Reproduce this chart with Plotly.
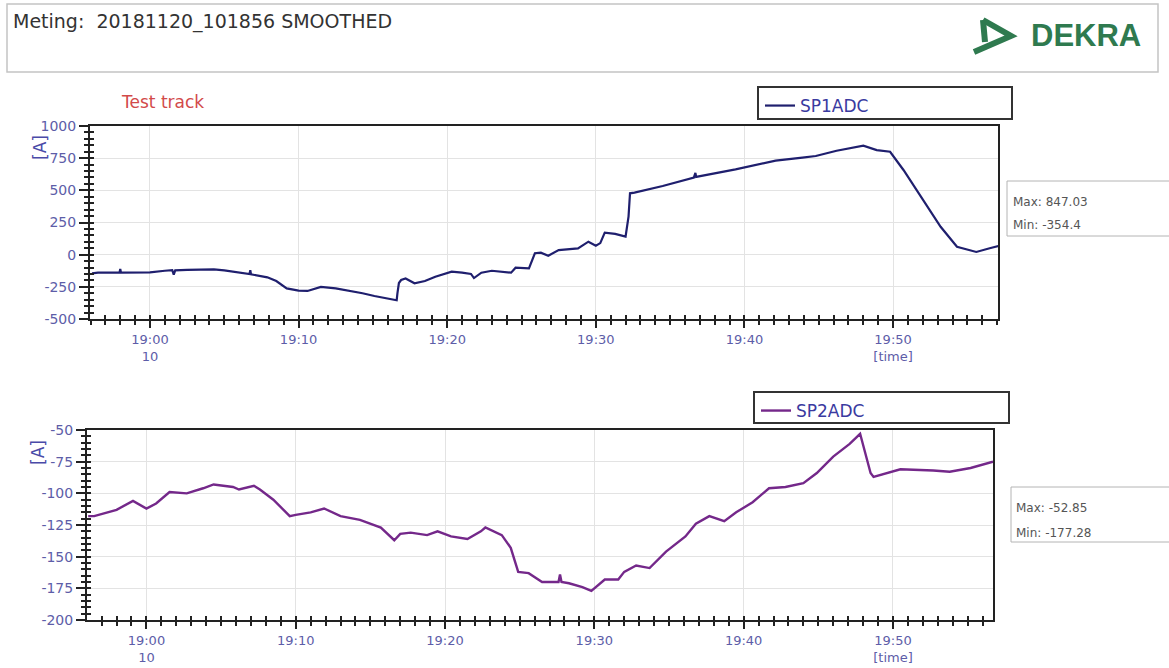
import pandas as pd
import plotly.graph_objects as go

W, H = 1169, 668

# ---------------- data (minutes after 19:00, value in A) ----------------
sp1_minutes = [-3.9, -3.5, -2.05, -2.0, -1.95, -1.0, 0.0, 1.0, 1.5, 1.6, 1.7, 2.5, 3.5, 4.3, 5.0,
               6.0, 6.7, 6.75, 6.8, 7.9, 8.5, 9.2, 10.0, 10.6, 11.5, 12.5, 13.5, 14.3, 15.1, 16.3,
               16.6, 16.65, 16.75, 16.9, 17.2, 17.8, 18.5, 19.2, 20.3, 21.0, 21.6, 21.8, 22.3, 23.0,
               24.3, 24.6, 25.5, 25.9, 26.3, 26.8, 27.5, 28.8, 29.5, 30.0, 30.3, 30.6, 31.3, 32.0,
               32.2, 32.3, 32.6, 34.5, 36.6, 36.7, 36.75, 39.4, 42.1, 43.9, 44.8, 46.2, 48.0, 48.9,
               49.8, 50.7, 52.0, 53.2, 54.3, 55.6, 56.5, 57.1]
sp1_values = [-145, -140, -140, -112, -140, -138, -137, -125, -120, -155, -122, -118, -118, -114, -122,
              -140, -150, -120, -153, -176, -205, -262, -280, -282, -250, -262, -280, -300, -321, -344,
              -354, -300, -220, -197, -185, -222, -205, -171, -132, -140, -150, -182, -140, -125,
              -140, -101, -106, 11, 15, -8, 36, 49, 101, 70, 90, 171, 161, 140,
              295, 477, 482, 534, 600, 635, 604, 663, 731, 754, 767, 808, 847, 813,
              800, 658, 425, 217, 62, 21, 50, 67]

sp2_minutes = [-3.9, -3.5, -2.0, -0.9, 0.0, 0.65, 1.55, 2.7, 3.8, 4.5, 5.8, 6.2, 7.2, 7.6, 8.5,
               9.6, 10.0, 11.0, 11.9, 13.0, 14.3, 15.7, 16.6, 17.0, 17.7, 18.8, 19.5, 20.4, 21.5,
               22.4, 22.7, 23.8, 24.4, 24.9, 25.6, 26.5, 27.6, 27.7, 27.8, 28.3, 29.2, 29.8, 30.7,
               31.6, 32.0, 32.8, 33.7, 34.8, 36.1, 36.8, 37.7, 38.7, 39.5, 40.6, 41.7, 42.8, 44.0,
               44.9, 46.0, 47.1, 47.8, 48.5, 48.7, 50.5, 52.7, 53.8, 55.2, 56.7]
sp2_values = [-118, -118, -113, -106, -112, -108, -99, -100, -96, -93, -95, -97, -94, -97, -105,
              -118, -117, -115, -112, -118, -121, -127, -137, -132, -131, -133, -130, -134, -136,
              -130, -127, -133, -143, -162, -163, -170, -170, -164, -170, -171, -174, -177, -168,
              -168, -162, -157, -159, -146, -134, -124, -118, -122, -115, -107, -96, -95, -92,
              -84, -71, -61, -53, -84, -87, -81, -82, -83, -80, -75]

tick_minutes = [0, 10, 20, 30, 40, 50]
tick_labels = ["19:00<br>10", "19:10", "19:20", "19:30", "19:40", "19:50<br>[time]"]

sp1_yticks = [-500, -250, 0, 250, 500, 750, 1000]
sp2_yticks = [-200, -175, -150, -125, -100, -75, -50]

base = pd.Timestamp("2018-11-20 19:00:00")


def to_time(mins):
    return [base + pd.Timedelta(minutes=m) for m in mins]


def px(x):
    return x / W


def py(y):
    return 1 - y / H


t1 = to_time(sp1_minutes)
t2 = to_time(sp2_minutes)
tickvals = to_time(tick_minutes)

range_top = to_time([-4.035, 57.06])
range_bot = to_time([-3.98, 56.7])

LABEL_COLOR = "#5d5da8"
AX_COLOR = "#222222"
FONT = "DejaVu Sans"

fig = go.Figure()
fig.add_trace(go.Scatter(x=t1, y=sp1_values, mode="lines", name="SP1ADC",
                         line=dict(color="#1f1f6e", width=2.2),
                         xaxis="x", yaxis="y", legend="legend", showlegend=True))
fig.add_trace(go.Scatter(x=t2, y=sp2_values, mode="lines", name="SP2ADC",
                         line=dict(color="#74288a", width=2.4),
                         xaxis="x2", yaxis="y2", legend="legend2", showlegend=True))
# empty traces so the overlay (inside-tick) axes get drawn
fig.add_trace(go.Scatter(x=[], y=[], xaxis="x3", yaxis="y3", showlegend=False, hoverinfo="skip"))
fig.add_trace(go.Scatter(x=[], y=[], xaxis="x4", yaxis="y4", showlegend=False, hoverinfo="skip"))


def main_x(dom, rng, anchor):
    return dict(type="date", domain=dom, range=rng, anchor=anchor, automargin=False,
                tickmode="array", tickvals=tickvals, ticktext=tick_labels,
                ticks="outside", ticklen=7, tickwidth=2, tickcolor=AX_COLOR,
                showline=True, linecolor=AX_COLOR, linewidth=2, mirror=True,
                showgrid=True, gridcolor="#e3e3e3", gridwidth=1, zeroline=False,
                tickfont=dict(family=FONT, size=13, color=LABEL_COLOR),
                minor=dict(tickmode="linear", tick0=base, dtick=60000,
                           ticks="outside", ticklen=4, tickwidth=1.5,
                           tickcolor=AX_COLOR, showgrid=False))


def over_x(over, rng, anchor):
    return dict(type="date", overlaying=over, range=rng, anchor=anchor, side="bottom",
                automargin=False,
                tickmode="array", tickvals=tickvals, ticktext=[""] * len(tickvals),
                ticks="inside", ticklen=8, tickwidth=2, tickcolor=AX_COLOR,
                showticklabels=False, showline=False, showgrid=False, zeroline=False,
                minor=dict(tickmode="linear", tick0=base, dtick=60000,
                           ticks="inside", ticklen=4, tickwidth=1.5,
                           tickcolor=AX_COLOR, showgrid=False))


def main_y(dom, rng, anchor, tv, mdtick):
    return dict(domain=dom, range=rng, anchor=anchor, automargin=False,
                tickmode="array", tickvals=tv, ticktext=[str(v) for v in tv],
                ticks="outside", ticklen=9, tickwidth=2, tickcolor=AX_COLOR,
                showline=True, linecolor=AX_COLOR, linewidth=2, mirror=True,
                showgrid=True, gridcolor="#e3e3e3", gridwidth=1, zeroline=False,
                tickfont=dict(family=FONT, size=14, color=LABEL_COLOR),
                minor=dict(tickmode="linear", tick0=rng[0], dtick=mdtick,
                           ticks="outside", ticklen=4, tickwidth=1.5,
                           tickcolor=AX_COLOR, showgrid=False))


def over_y(over, rng, anchor, tv, mdtick):
    return dict(overlaying=over, range=rng, anchor=anchor, side="left", automargin=False,
                tickmode="array", tickvals=tv, ticktext=[""] * len(tv),
                ticks="inside", ticklen=9, tickwidth=2, tickcolor=AX_COLOR,
                showticklabels=False, showline=False, showgrid=False, zeroline=False,
                minor=dict(tickmode="linear", tick0=rng[0], dtick=mdtick,
                           ticks="inside", ticklen=4, tickwidth=1.5,
                           tickcolor=AX_COLOR, showgrid=False))


dom_x_top = [px(90), px(998)]
dom_y_top = [py(319), py(126)]
dom_x_bot = [px(87), px(993)]
dom_y_bot = [py(620), py(430)]

fig.update_layout(
    width=W, height=H, margin=dict(l=0, r=0, t=0, b=0, autoexpand=False),
    paper_bgcolor="white", plot_bgcolor="white", showlegend=True,
    xaxis=main_x(dom_x_top, range_top, "y"),
    yaxis=main_y(dom_y_top, [-500, 1000], "x", sp1_yticks, 50),
    xaxis2=main_x(dom_x_bot, range_bot, "y2"),
    yaxis2=main_y(dom_y_bot, [-200, -50], "x2", sp2_yticks, 5),
    xaxis3=over_x("x", range_top, "y"),
    yaxis3=over_y("y", [-500, 1000], "x", sp1_yticks, 50),
    xaxis4=over_x("x2", range_bot, "y2"),
    yaxis4=over_y("y2", [-200, -50], "x2", sp2_yticks, 5),
    legend=dict(x=px(760), y=py(88), xanchor="left", yanchor="top",
                bgcolor="rgba(0,0,0,0)", borderwidth=0,
                font=dict(family=FONT, size=17, color="#3a3aa0")),
    legend2=dict(x=px(756), y=py(393), xanchor="left", yanchor="top",
                 bgcolor="rgba(0,0,0,0)", borderwidth=0,
                 font=dict(family=FONT, size=17, color="#3a3aa0")),
)

shapes = [
    # header box
    dict(type="rect", xref="paper", yref="paper", x0=px(7), x1=px(1158), y0=py(72), y1=py(4),
         line=dict(color="#c4c4c4", width=1.5)),
    # legend boxes
    dict(type="rect", xref="paper", yref="paper", x0=px(758), x1=px(1012), y0=py(119), y1=py(87),
         line=dict(color="#333333", width=2)),
    dict(type="rect", xref="paper", yref="paper", x0=px(754), x1=px(1009), y0=py(423), y1=py(392),
         line=dict(color="#333333", width=2)),
    # max/min boxes
    dict(type="rect", xref="paper", yref="paper", x0=px(1007), x1=px(1180), y0=py(236), y1=py(181),
         line=dict(color="#b4b4b4", width=1)),
    dict(type="rect", xref="paper", yref="paper", x0=px(1011), x1=px(1180), y0=py(542), y1=py(487),
         line=dict(color="#b4b4b4", width=1)),
    # DEKRA mark
    dict(type="path", xref="paper", yref="paper",
         path=f"M {px(983)},{py(20)} L {px(985)},{py(42)}",
         line=dict(color="#2f7a4f", width=6)),
    dict(type="path", xref="paper", yref="paper",
         path=f"M {px(983)},{py(20)} L {px(1011)},{py(36)} L {px(974)},{py(52)}",
         line=dict(color="#2f7a4f", width=6)),
]

annotations = [
    dict(text="Meting:\u00a0 20181120_101856 SMOOTHED", x=px(11), y=py(21), xref="paper", yref="paper",
         xanchor="left", yanchor="middle", showarrow=False,
         font=dict(family=FONT, size=19, color="#333333")),
    dict(text="<b>DEKRA</b>", x=px(1029), y=py(36), xref="paper", yref="paper",
         xanchor="left", yanchor="middle", showarrow=False,
         font=dict(family="Liberation Sans", size=31, color="#2f7a4f")),
    dict(text="Test track", x=px(119), y=py(102), xref="paper", yref="paper",
         xanchor="left", yanchor="middle", showarrow=False,
         font=dict(family=FONT, size=17, color="#d24a4a")),
    dict(text="[A]", x=px(40), y=py(148), xref="paper", yref="paper", textangle=-90,
         xanchor="center", yanchor="middle", showarrow=False,
         font=dict(family=FONT, size=17, color="#4a4aa8")),
    dict(text="[A]", x=px(38), y=py(453), xref="paper", yref="paper", textangle=-90,
         xanchor="center", yanchor="middle", showarrow=False,
         font=dict(family=FONT, size=17, color="#4a4aa8")),
    dict(text="Max: 847.03", x=px(1011), y=py(202), xref="paper", yref="paper",
         xanchor="left", yanchor="middle", showarrow=False,
         font=dict(family=FONT, size=12, color="#555555")),
    dict(text="Min: -354.4", x=px(1011), y=py(225), xref="paper", yref="paper",
         xanchor="left", yanchor="middle", showarrow=False,
         font=dict(family=FONT, size=12, color="#555555")),
    dict(text="Max: -52.85", x=px(1014), y=py(508), xref="paper", yref="paper",
         xanchor="left", yanchor="middle", showarrow=False,
         font=dict(family=FONT, size=12, color="#555555")),
    dict(text="Min: -177.28", x=px(1014), y=py(533), xref="paper", yref="paper",
         xanchor="left", yanchor="middle", showarrow=False,
         font=dict(family=FONT, size=12, color="#555555")),
]

fig.update_layout(shapes=shapes, annotations=annotations)
fig.write_html("out.html", config={"displayModeBar": False},
               post_script="document.body.style.margin='0';document.body.style.overflow='hidden';")
